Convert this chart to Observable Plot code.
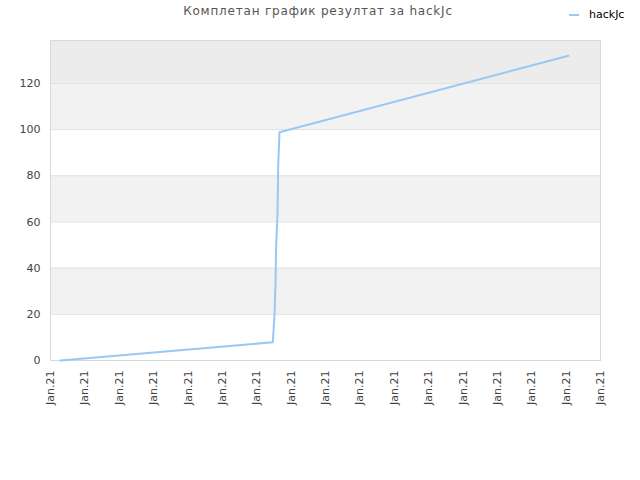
<!DOCTYPE html>
<html>
<head>
<meta charset="utf-8">
<script src="https://cdn.jsdelivr.net/npm/d3@7"></script>
<script src="https://cdn.jsdelivr.net/npm/@observablehq/plot@0.6"></script>
<style>
  html, body { margin: 0; padding: 0; background: #fff; }
  #wrap { position: relative; width: 640px; height: 480px; font-family: "DejaVu Sans", sans-serif; }
  #title { position: absolute; top: 4px; left: 0; width: 636px; text-align: center; font-size: 12px; color: #555; letter-spacing: 0.8px; }
  #legend { position: absolute; top: 8px; left: 569px; font-size: 11px; color: #000; display: flex; align-items: center; }
  #legend .sw { width: 10px; height: 2px; background: #99c8f5; margin-right: 10px; }
</style>
</head>
<body>
<div id="wrap">
  <div id="title">Комплетан график резултат за hackJc</div>
  <div id="legend"><span class="sw"></span><span>hackJc</span></div>
</div>
<script>
const seriesName = "hackJc";
const xPos = [0.29, 6.467, 6.516, 6.545, 6.566, 6.604, 6.624, 6.662, 15.069];
const yVal = [0, 7.9, 19.5, 33, 50.7, 63.7, 84.5, 98.9, 132];
const xTicks = d3.range(0, 17);
const xTickLabel = "Jan.21";
const yTicks = [0, 20, 40, 60, 80, 100, 120];
const yMax = 138.6;
const bandLo = [20, 60, 100, 120];
const bandHi = [40, 80, 120, yMax];
const bandFill = ["#f2f2f2", "#f2f2f2", "#f2f2f2", "#ececec"];

const pts = xPos.map((x, i) => ({x, y: yVal[i]}));
const bands = bandLo.map((lo, i) => ({lo, hi: bandHi[i], fill: bandFill[i]}));

const chart = Plot.plot({
  width: 640,
  height: 480,
  marginLeft: 50,
  marginRight: 40,
  marginTop: 40,
  marginBottom: 120,
  style: {fontFamily: "DejaVu Sans, sans-serif", fontSize: "11px", color: "#444", background: "transparent"},
  x: {domain: [0, 16], ticks: xTicks, tickFormat: () => xTickLabel, tickRotate: -90, tickSize: 0, tickPadding: 10, label: null},
  y: {domain: [0, yMax], ticks: yTicks, tickSize: 0, tickPadding: 10, label: null},
  marks: [
    Plot.rect(bands, {y1: "lo", y2: "hi", fill: "fill"}),
    Plot.ruleY(yTicks.slice(1), {stroke: "#e0e0e0"}),
    Plot.frame({stroke: "#d9d9d9"}),
    Plot.line(pts, {x: "x", y: "y", stroke: "#99c8f5", strokeWidth: 2})
  ]
});
document.getElementById("wrap").prepend(chart);
chart.style.position = "absolute";
chart.style.left = "0";
chart.style.top = "0";
</script>
</body>
</html>
